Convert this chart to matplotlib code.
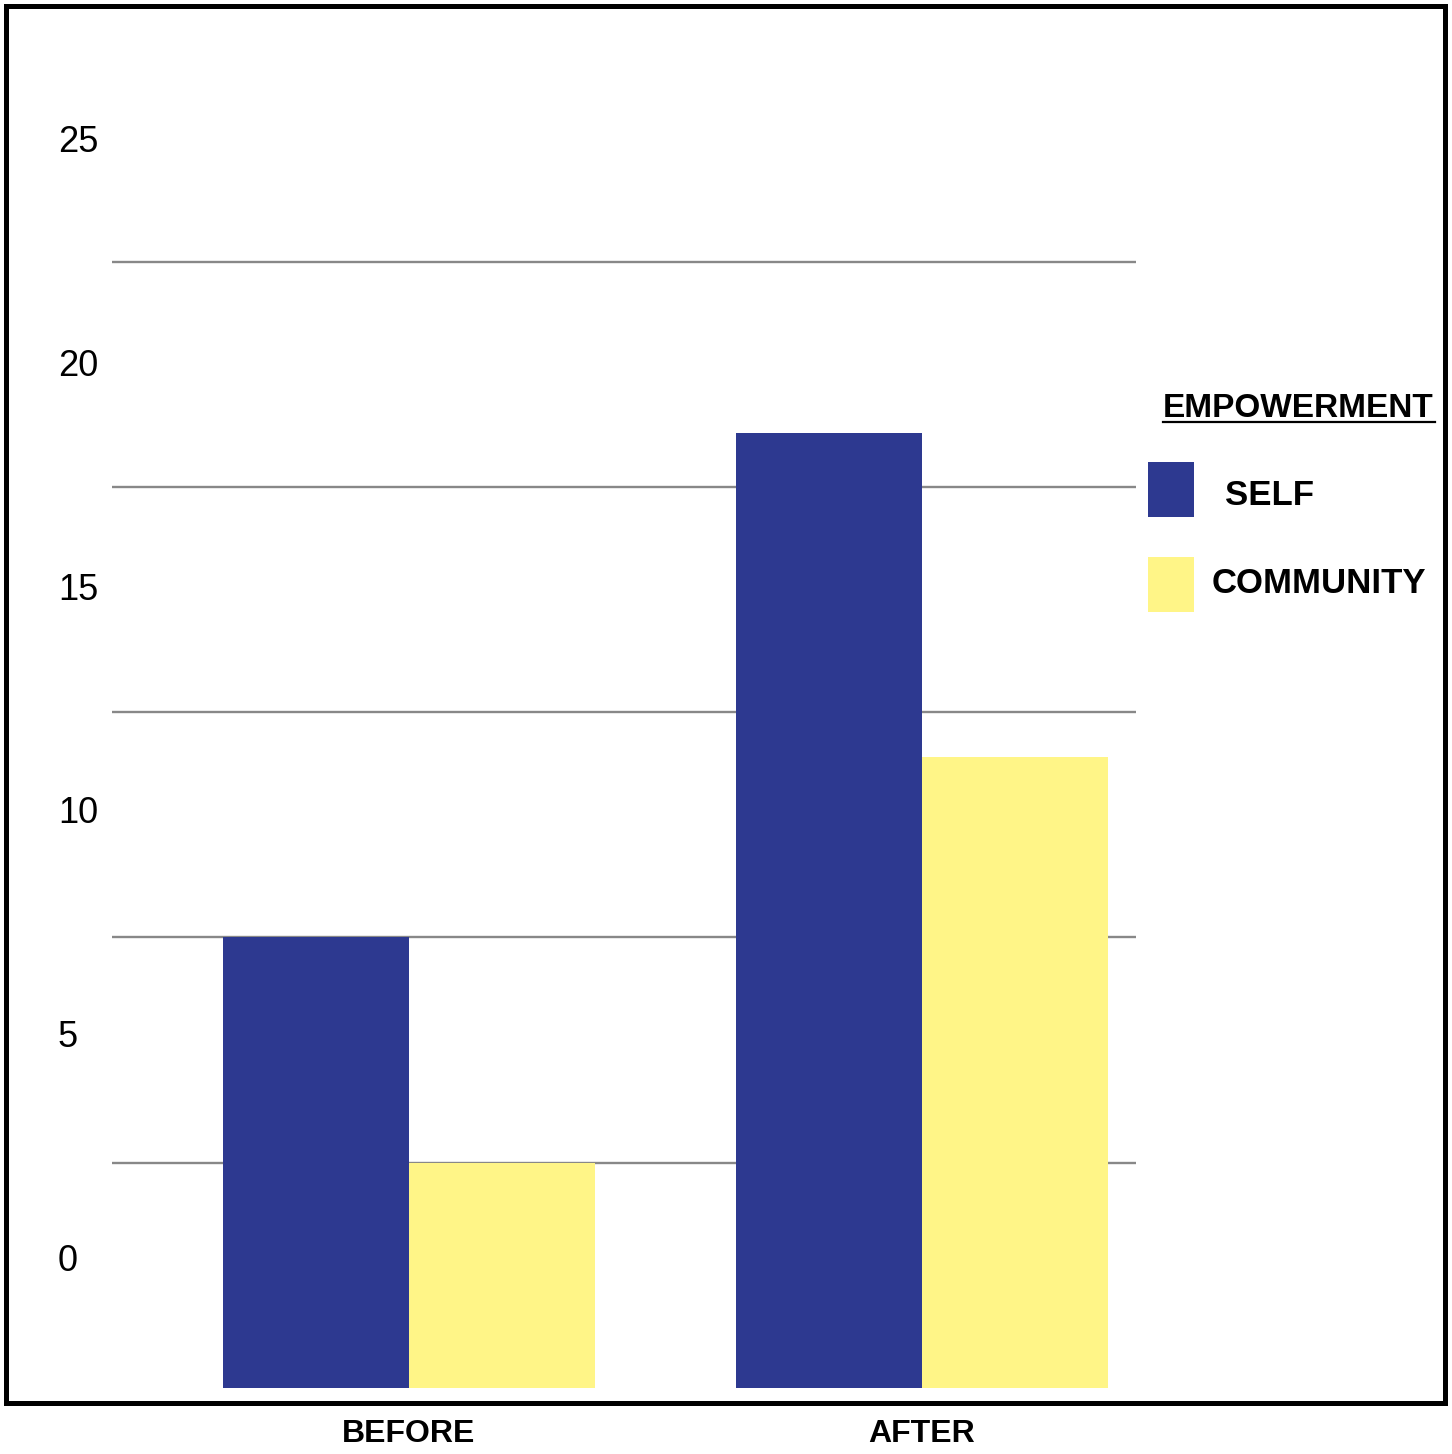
import matplotlib
matplotlib.use("Agg")
import matplotlib.pyplot as plt
from matplotlib.patches import Rectangle
from matplotlib.lines import Line2D
import numpy as np

plt.rcParams['font.family'] = ['Liberation Sans', 'DejaVu Sans']

groups = ["BEFORE", "AFTER"]
self_vals = [10.0, 21.2]
community_vals = [5.0, 14.0]
tick_values = [0, 5, 10, 15, 20, 25]
grid_values = [5, 10, 15, 20, 25]
legend_title = "EMPOWERMENT"
series_names = ["SELF", "COMMUNITY"]

navy = "#2d3990"
yellow = "#fff587"

W, H = 1452, 1454
fig = plt.figure(figsize=(W / 100, H / 100), dpi=100)

# axes box in pixels (from top-left)
ax_l, ax_r, ax_t, ax_b = 112, 1136, 100, 1388
ax = fig.add_axes([ax_l / W, 1 - ax_b / H, (ax_r - ax_l) / W, (ax_b - ax_t) / H])

x = np.arange(len(groups))
w = 0.3626
b1 = ax.bar(x - w / 2, self_vals, w, color=navy, zorder=3)
b2 = ax.bar(x + w / 2, community_vals, w, color=yellow, zorder=3)

ax.set_xlim(-0.578, 1.418)
ax.set_ylim(0, 28.59)

# gridlines sit on minor ticks, the labels are drawn shifted up (as in the original)
ax.set_yticks(grid_values, minor=True)
ax.yaxis.grid(True, which='minor', color='#888888', linewidth=1.7, zorder=1)
label_pos = [2.9 + v * 0.993 for v in tick_values]
ax.set_yticks(label_pos)
ax.set_yticklabels([str(v) for v in tick_values], fontsize=26, ha='left')
ax.tick_params(axis='y', which='both', length=0, pad=39)

ax.set_xticks(x)
ax.set_xticklabels(groups, fontsize=23, fontweight='bold')
ax.tick_params(axis='x', length=0, pad=22)

for s in ax.spines.values():
    s.set_visible(False)

# outer frame
fig.add_artist(Rectangle((5.5 / W, 1 - 1403 / H), (1444.5 - 5.5) / W, (1403 - 5.5) / H,
                         transform=fig.transFigure, fill=False, edgecolor='black',
                         linewidth=3.6, clip_on=False))

# legend
fig.text(1163 / W, 1 - 417 / H, legend_title, fontsize=24, fontweight='bold',
         va='baseline', ha='left')
fig.add_artist(Line2D([1163 / W, 1435 / W], [1 - 422 / H, 1 - 422 / H],
                      transform=fig.transFigure, color='black', linewidth=1.6))
for bars, name, top, tx, base in [(b1, series_names[0], 462, 1225, 505),
                                  (b2, series_names[1], 557, 1212, 593)]:
    fig.add_artist(Rectangle((1148 / W, 1 - (top + 55) / H), 46 / W, 55 / H,
                             transform=fig.transFigure,
                             facecolor=bars.patches[0].get_facecolor(), edgecolor='none'))
    fig.text(tx / W, 1 - base / H, name, fontsize=25, fontweight='bold',
             va='baseline', ha='left')

fig.savefig("out.png", dpi=100)
